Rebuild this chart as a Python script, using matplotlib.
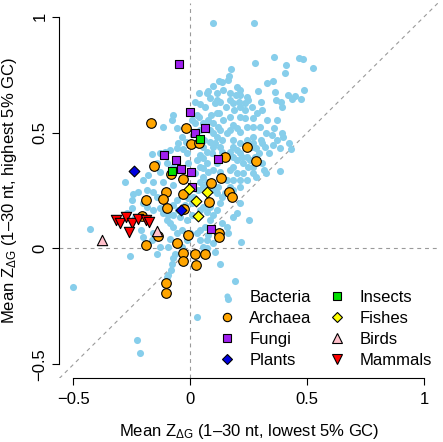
import matplotlib
matplotlib.use("Agg")
import matplotlib.pyplot as plt
from matplotlib.lines import Line2D

plt.rcParams['font.family'] = ['Liberation Sans', 'DejaVu Sans']
plt.rcParams['mathtext.fontset'] = 'custom'
plt.rcParams['mathtext.rm'] = 'Liberation Sans'

# data (x = lowest 5% GC, y = highest 5% GC)
bacteria = [
    (0.098, 0.971), (0.272, 0.972), (-0.500, -0.168), (-0.228, -0.393), (-0.217, -0.450),
    (0.028, -0.295), (0.160, -0.216), (0.191, -0.140), (0.127, -0.069), (-0.429, 0.083),
    (-0.281, 0.286), (-0.259, -0.033), (0.252, 0.122), (0.385, 0.332), (0.432, 0.427),
    (0.423, 0.456), (0.526, 0.777), (0.481, 0.816), (0.464, 0.822), (0.358, 0.827),
    (0.278, 0.801), (0.407, 0.791), (0.405, 0.755), (0.487, 0.684), (0.471, 0.644),
    (0.447, 0.656), (0.436, 0.644), (0.419, 0.663), (0.392, 0.612), (0.387, 0.630),
    (0.365, 0.641), (0.352, 0.722), (0.326, 0.715), (0.288, 0.680), (0.362, 0.676),
    (0.172, 0.772), (0.167, 0.743), (0.160, 0.726), (0.123, 0.723), (0.134, 0.719),
    (0.198, 0.695), (0.212, 0.683), (0.244, 0.654), (0.248, 0.640), (0.195, 0.663),
    (0.170, 0.640), (0.209, 0.633), (0.127, 0.633), (0.115, 0.640), (0.077, 0.680),
    (0.070, 0.670), (0.036, 0.672), (0.041, 0.624), (0.063, 0.608), (0.088, 0.576),
    (0.113, 0.583), (0.124, 0.583), (0.152, 0.608), (0.188, 0.597), (0.141, 0.554),
    (0.170, 0.566), (0.212, 0.569), (0.234, 0.561), (0.269, 0.561), (0.326, 0.554),
    (0.369, 0.554), (0.358, 0.518), (0.348, 0.489), (0.322, 0.496), (0.302, 0.467),
    (0.268, 0.482), (0.298, 0.525), (0.241, 0.525), (0.269, 0.525), (0.184, 0.532),
    (0.198, 0.518), (0.212, 0.503), (0.155, 0.496), (0.170, 0.511), (0.120, 0.525),
    (0.127, 0.511), (0.098, 0.539), (0.037, 0.566), (0.027, 0.576), (-0.073, 0.576),
    (-0.077, 0.554), (-0.118, 0.525), (-0.058, 0.518), (-0.019, 0.460), (0.058, 0.467),
    (0.084, 0.460), (0.105, 0.453), (0.056, 0.439), (0.070, 0.417), (0.091, 0.410),
    (0.041, 0.403), (0.053, 0.388), (0.127, 0.439), (0.134, 0.417), (0.184, 0.467),
    (0.212, 0.453), (0.241, 0.467), (0.269, 0.453), (0.306, 0.453), (0.319, 0.439),
    (0.335, 0.410), (0.292, 0.410), (0.278, 0.396), (0.212, 0.410), (0.241, 0.396),
    (0.255, 0.381), (0.184, 0.396), (0.198, 0.381), (0.184, 0.353), (0.226, 0.367),
    (0.248, 0.353), (0.269, 0.353), (0.306, 0.367), (0.313, 0.338), (0.325, 0.324),
    (0.170, 0.338), (0.198, 0.324), (0.226, 0.324), (0.112, 0.367), (0.098, 0.338),
    (0.127, 0.331), (0.070, 0.367), (0.056, 0.345), (0.077, 0.331), (0.027, 0.381),
    (0.041, 0.353), (0.020, 0.324), (-0.016, 0.410), (-0.009, 0.367), (-0.030, 0.427),
    (-0.058, 0.432), (-0.087, 0.424), (-0.108, 0.417), (-0.130, 0.410), (-0.162, 0.407),
    (-0.144, 0.370), (-0.101, 0.367), (-0.073, 0.353), (-0.130, 0.331), (-0.179, 0.316),
    (-0.201, 0.295), (-0.158, 0.288), (-0.115, 0.288), (-0.073, 0.273), (-0.187, 0.252),
    (-0.222, 0.245), (-0.244, 0.237), (-0.251, 0.209), (-0.158, 0.245), (-0.144, 0.223),
    (-0.158, 0.165), (-0.251, 0.173), (-0.236, 0.137), (-0.272, 0.151), (-0.130, 0.173),
    (-0.115, 0.151), (-0.094, 0.144), (-0.101, 0.122), (-0.087, 0.108), (-0.073, 0.094),
    (-0.044, 0.137), (-0.016, 0.122), (0.006, 0.144), (-0.058, 0.065), (-0.037, 0.079),
    (-0.087, 0.043), (-0.094, 0.007), (-0.130, 0.007), (-0.144, -0.022), (-0.066, -0.022),
    (-0.073, -0.043), (-0.080, -0.065), (-0.084, -0.091), (-0.094, -0.115), (-0.101, -0.122),
    (-0.037, 0.007), (-0.016, 0.036), (-0.001, 0.065), (0.027, 0.065), (0.041, 0.079),
    (0.063, 0.094), (0.070, 0.036), (0.077, 0.058), (0.041, 0.036), (0.056, 0.007),
    (0.070, 0.000), (0.098, 0.022), (0.155, 0.094), (0.162, 0.065), (0.134, 0.108),
    (0.084, 0.122), (0.098, 0.144), (0.113, 0.165), (0.127, 0.194), (0.134, 0.223),
    (0.148, 0.238), (0.113, 0.238), (0.120, 0.266), (0.098, 0.252), (0.056, 0.266),
    (0.056, 0.310), (0.070, 0.288), (0.041, 0.288), (0.034, 0.252), (0.013, 0.223),
    (0.006, 0.194), (0.041, 0.165), (0.056, 0.180), (0.070, 0.158), (0.084, 0.180),
    (-0.058, 0.209), (-0.073, 0.187), (-0.051, 0.165), (-0.009, 0.216), (-0.023, 0.187),
    (-0.073, 0.144), (-0.101, 0.180), (-0.187, 0.180), (-0.201, 0.194), (-0.211, 0.079),
    (-0.201, 0.050), (-0.165, 0.036), (-0.158, 0.065), (0.184, 0.137), (0.212, 0.194),
    (0.198, 0.151), (0.184, 0.252), (0.212, 0.266), (0.212, 0.295), (0.241, 0.295),
    (0.184, 0.295), (0.269, 0.324), (0.282, 0.309), (0.155, 0.295), (0.170, 0.266),
    (0.041, 0.511), (0.020, 0.539), (0.006, 0.554), (0.056, 0.539), (0.077, 0.554),
    (-0.037, 0.482), (-0.051, 0.453), (0.084, 0.511), (0.098, 0.496), (0.113, 0.482),
    (0.134, 0.467), (0.184, 0.439), (0.170, 0.417), (0.098, 0.439), (0.262, 0.439),
    (0.282, 0.432), (0.201, 0.424), (0.219, 0.396), (0.355, 0.446), (0.369, 0.467),
    (0.397, 0.482), (0.383, 0.432), (0.390, 0.496), (0.306, 0.597), (0.285, 0.583),
    (0.262, 0.612), (0.234, 0.597), (0.212, 0.612), (0.234, 0.626), (0.113, 0.672),
    (0.141, 0.683), (0.170, 0.672), (0.184, 0.626), (0.217, 0.029), (0.105, -0.014),
    (0.303, 0.630), (0.211, 0.663), (0.098, 0.699), (0.020, 0.633), (0.084, 0.647),
    (0.105, 0.626),
]
archaea = [
    (-0.168, 0.543), (-0.020, 0.519), (0.001, 0.451), (0.037, 0.454), (0.241, 0.439),
    (0.150, 0.396), (0.282, 0.377), (-0.154, 0.357), (-0.084, 0.321), (-0.031, 0.300),
    (0.130, 0.302), (0.088, 0.282), (-0.104, 0.242), (-0.033, 0.235), (0.167, 0.242),
    (0.179, 0.220), (-0.189, 0.209), (-0.118, 0.213), (0.081, 0.200), (-0.101, 0.173),
    (-0.026, 0.169), (-0.208, 0.140), (-0.137, 0.053), (-0.009, 0.056), (0.123, 0.068),
    (0.124, 0.050), (-0.058, 0.022), (-0.191, 0.013), (-0.031, -0.019), (-0.031, -0.055),
    (0.021, -0.022), (0.064, -0.024), (0.026, -0.073), (-0.105, -0.147), (-0.105, -0.191),
]
fungi = [
    (-0.047, 0.797), (0.000, 0.590), (0.061, 0.521), (0.020, 0.496), (-0.111, 0.403),
    (-0.063, 0.380), (0.120, 0.384), (-0.041, 0.342), (0.001, 0.329), (0.009, 0.266),
    (0.088, 0.086),
]
plants = [(-0.242, 0.334), (-0.040, 0.168)]
insects = [(0.041, 0.470), (-0.080, 0.335)]
fishes = [(-0.006, 0.256), (0.070, 0.243), (0.023, 0.203), (0.034, 0.138)]
birds = [(-0.377, 0.036), (-0.144, 0.076)]
mammals = [
    (-0.318, 0.122), (-0.301, 0.112), (-0.275, 0.134), (-0.251, 0.108),
    (-0.222, 0.125), (-0.189, 0.122), (-0.175, 0.115), (-0.261, 0.072),
]

groups = ['Bacteria', 'Archaea', 'Fungi', 'Plants', 'Insects', 'Fishes', 'Birds', 'Mammals']
points = [bacteria, archaea, fungi, plants, insects, fishes, birds, mammals]
colors = ['#87CEEB', '#FFA500', '#A020F0', '#0000E0', '#00E000', '#FFFF00', '#FFC0CB', '#FF0000']
markers = ['o', 'o', 's', 'D', 's', 'D', '^', 'v']
sizes = [26, 48, 34, 30, 34, 30, 55, 55]
leg_sizes = [4.4, 6.0, 5.2, 5.4, 5.2, 5.4, 7.0, 7.0]

ticks = [-0.5, 0, 0.5, 1]
tick_labels = ['\u22120.5', '0', '0.5', '1']

fig = plt.figure(figsize=(4.43, 4.42), dpi=100)
ax = fig.add_axes([0.134, 0.144, 0.8555, 0.850])

# reference lines
dash = dict(color='#9a9a9a', lw=0.8, dashes=(3.5, 3.5), zorder=1)
ax.axhline(0, **dash)
ax.axvline(0, **dash)
ax.axline((0, 0), (1, 1), **dash)

for i, (name, pts) in enumerate(zip(groups, points)):
    xs = [p[0] for p in pts]
    ys = [p[1] for p in pts]
    if name == 'Bacteria':
        ax.scatter(xs, ys, s=sizes[i], c=colors[i], marker=markers[i],
                   linewidths=0, zorder=2)
    else:
        ax.scatter(xs, ys, s=sizes[i], c=colors[i], marker=markers[i],
                   edgecolors='black', linewidths=0.8, zorder=3)

ax.set_xlim(-0.56, 1.06)
ax.set_ylim(-0.56, 1.06)

for side in ['top', 'right']:
    ax.spines[side].set_visible(False)
for side in ['left', 'bottom']:
    ax.spines[side].set_bounds(-0.5, 1)
    ax.spines[side].set_linewidth(0.8)

ax.set_xticks(ticks)
ax.set_xticklabels(tick_labels)
ax.set_yticks(ticks)
ax.set_yticklabels(tick_labels, rotation=90, va='center')
ax.tick_params(axis='both', direction='out', length=5, width=0.8, labelsize=12)
ax.tick_params(axis='x', pad=4.5)
ax.tick_params(axis='y', pad=3.5)

zlab = r'Mean $\mathregular{Z_{\Delta G}}$ '
ax.set_xlabel(zlab + '(1\u201330 nt, lowest 5% GC)', fontsize=12, labelpad=11)
ax.set_ylabel(zlab + '(1\u201330 nt, highest 5% GC)', fontsize=12, labelpad=10)

handles = []
for i, name in enumerate(groups):
    if name == 'Bacteria':
        h = Line2D([], [], linestyle='none', marker=markers[i], markersize=leg_sizes[i],
                   markerfacecolor=colors[i], markeredgewidth=0)
    else:
        h = Line2D([], [], linestyle='none', marker=markers[i], markersize=leg_sizes[i],
                   markerfacecolor=colors[i], markeredgecolor='black', markeredgewidth=0.8)
    handles.append(h)

ax.legend(handles, groups, ncol=2, frameon=False, loc='upper left',
          bbox_to_anchor=(0.42, 0.235), borderaxespad=0, borderpad=0,
          handlelength=1.0, handletextpad=0.85, columnspacing=1.0,
          labelspacing=0.36, fontsize=12)

fig.savefig('out.png', dpi=100)
